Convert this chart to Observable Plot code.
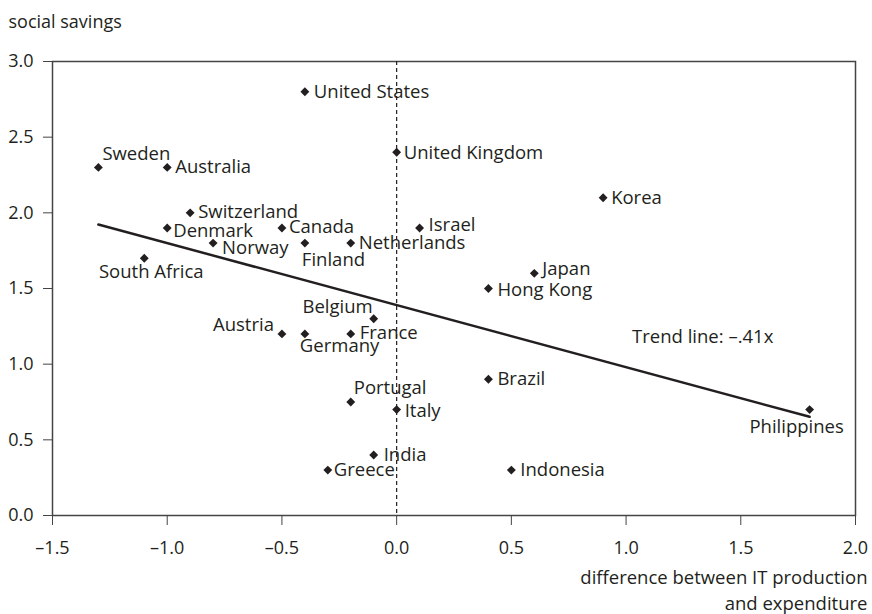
<!DOCTYPE html>
<html>
<head>
<meta charset="utf-8">
<script src="https://cdn.jsdelivr.net/npm/d3@7"></script>
<script src="https://cdn.jsdelivr.net/npm/@observablehq/plot@0.6"></script>
<style>
  html, body { margin: 0; padding: 0; background: #fff; }
  #chart svg { display: block; }
</style>
</head>
<body>
<div id="chart"></div>
<script>
// ---- data ----
const countries = ["United States","Sweden","Australia","United Kingdom","Korea","Switzerland","Denmark","Canada","Israel","Norway","Finland","Netherlands","South Africa","Japan","Hong Kong","Belgium","Austria","Germany","France","Brazil","Portugal","Italy","Philippines","India","Greece","Indonesia"];
const itDifference = [-0.4,-1.3,-1.0,0.0,0.9,-0.9,-1.0,-0.5,0.1,-0.8,-0.4,-0.2,-1.1,0.6,0.4,-0.1,-0.5,-0.4,-0.2,0.4,-0.2,0.0,1.8,-0.1,-0.3,0.5];
const socialSavings = [2.8,2.3,2.3,2.4,2.1,2.0,1.9,1.9,1.9,1.8,1.8,1.8,1.7,1.6,1.5,1.3,1.2,1.2,1.2,0.9,0.75,0.7,0.7,0.4,0.3,0.3];
const trendSlope = -0.41;
const trendIntercept = 1.39;
const trendLabel = "Trend line: \u2013.41x";
const xTicks = [-1.5,-1.0,-0.5,0.0,0.5,1.0,1.5,2.0];
const yTicks = [0.0,0.5,1.0,1.5,2.0,2.5,3.0];
const yTitle = "social savings";
const xTitle = "difference between IT production\nand expenditure";

// ---- layout config (label placement) ----
const defaultPlace = {anchor: "start", dx: 8, dy: 0};
const place = {
  "Sweden": {anchor: "start", dx: 4, dy: -13},
  "South Africa": {anchor: "middle", dx: 7, dy: 14},
  "Finland": {anchor: "start", dx: -3, dy: 17},
  "Belgium": {anchor: "end", dx: -1, dy: -12},
  "Austria": {anchor: "end", dx: -8, dy: -9},
  "Germany": {anchor: "start", dx: -5, dy: 12},
  "Portugal": {anchor: "start", dx: 3, dy: -14},
  "Philippines": {anchor: "middle", dx: -13, dy: 18},
  "Japan": {anchor: "start", dx: 8, dy: -4},
  "Israel": {anchor: "start", dx: 9, dy: -3},
  "Switzerland": {anchor: "start", dx: 8, dy: -1},
  "Norway": {anchor: "start", dx: 9, dy: 5},
  "Denmark": {anchor: "start", dx: 6, dy: 3},
  "Canada": {anchor: "start", dx: 7, dy: -1},
  "Italy": {anchor: "start", dx: 8, dy: 2},
  "India": {anchor: "start", dx: 10, dy: 0},
  "Greece": {anchor: "start", dx: 6, dy: 0},
  "Hong Kong": {anchor: "start", dx: 9, dy: 2},
  "Brazil": {anchor: "start", dx: 9, dy: 0},
  "France": {anchor: "start", dx: 9, dy: -1},
  "United Kingdom": {anchor: "start", dx: 7, dy: 1},
  "United States": {anchor: "start", dx: 9, dy: 0},
  "Indonesia": {anchor: "start", dx: 9, dy: 0}
};

const rows = countries.map((c, i) => ({name: c, x: itDifference[i], y: socialSavings[i]}));
const xs = d3.extent(itDifference);
const trend = xs.map(x => ({x, y: trendIntercept + trendSlope * x}));

const fmt = d => (d < 0 ? "\u2013" : "") + Math.abs(d).toFixed(1);
const ink = "#231f20";
const labelSize = 18.5;
const axisSize = 18;

const labelMarks = rows.map(r => {
  const p = place[r.name] || defaultPlace;
  return Plot.text([r], {x: "x", y: "y", text: "name", textAnchor: p.anchor, dx: p.dx, dy: p.dy, fill: ink, fontSize: labelSize});
});

const chart = Plot.plot({
  width: 872,
  height: 614,
  marginLeft: 52,
  marginRight: 17,
  marginTop: 61,
  marginBottom: 99,
  style: {fontFamily: "'Open Sans', sans-serif", fontSize: "18px", color: ink, background: "#fff"},
  x: {domain: [-1.5, 2.0]},
  y: {domain: [0, 3.0]},
  marks: [
    Plot.frame({stroke: "#444", strokeWidth: 1.5}),
    Plot.axisX({ticks: xTicks, tickFormat: fmt, tickSize: 10, tickPadding: 16, label: null, stroke: "#444", fontSize: axisSize, fill: ink}),
    Plot.axisY({ticks: yTicks, tickFormat: fmt, tickSize: 9, tickPadding: 10, label: null, stroke: "#444", fontSize: axisSize, fill: ink}),
    Plot.ruleX([0], {stroke: ink, strokeWidth: 1.2, strokeDasharray: "4,3"}),
    Plot.line(trend, {x: "x", y: "y", stroke: ink, strokeWidth: 2.5}),
    Plot.dot(rows, {x: "x", y: "y", symbol: "diamond2", r: 4, fill: ink, stroke: "none"}),
    ...labelMarks,
    Plot.text([trendLabel], {x: 1.026, y: 1.178, textAnchor: "start", fill: ink, fontSize: labelSize}),
    Plot.text([yTitle], {frameAnchor: "top-left", dx: -44, dy: -46, textAnchor: "start", fill: ink, fontSize: axisSize}),
    Plot.text([xTitle], {frameAnchor: "bottom-right", dx: 12, dy: 50, lineAnchor: "top", textAnchor: "end", lineHeight: 1.4, fill: ink, fontSize: 18.5})
  ]
});
document.getElementById("chart").appendChild(chart);
</script>
</body>
</html>
